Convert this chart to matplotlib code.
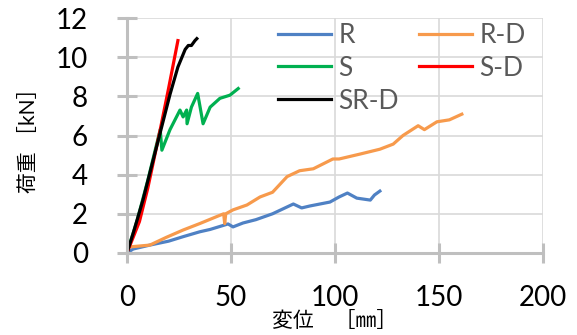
import matplotlib
matplotlib.use("Agg")
import matplotlib.pyplot as plt

plt.rcParams['font.family'] = ['Lato', 'Noto Sans CJK JP', 'DejaVu Sans']

# load-displacement data
r_x = [0, 3, 11, 20, 27, 35, 40, 48.6, 51, 55.8, 62, 70, 80, 84, 88, 97.6, 102, 106, 110.5, 117, 119, 121.6]
r_y = [0, 0.2, 0.4, 0.6, 0.83, 1.08, 1.2, 1.48, 1.33, 1.53, 1.7, 2.0, 2.5, 2.3, 2.4, 2.6, 2.86, 3.06, 2.8, 2.7, 2.96, 3.16]

rd_x = [0, 0.5, 11, 19, 27, 35, 43, 46.5, 47, 47.5, 51, 57.7, 64, 70, 77, 83, 89.6, 99, 102, 112, 121.6, 128, 132.7, 140, 143, 149, 155, 161]
rd_y = [0, 0.3, 0.4, 0.8, 1.17, 1.5, 1.85, 2.0, 1.5, 2.0, 2.2, 2.45, 2.86, 3.1, 3.9, 4.2, 4.3, 4.8, 4.8, 5.05, 5.3, 5.56, 6.0, 6.5, 6.3, 6.7, 6.8, 7.09]

s_x = [0, 5, 10, 16, 16.8, 20.7, 25.5, 27, 28.7, 28.9, 31, 34, 36.6, 40, 44.7, 49.5, 53.5]
s_y = [0, 1.7, 3.7, 6.3, 5.25, 6.3, 7.3, 6.95, 7.3, 6.6, 7.45, 8.15, 6.6, 7.45, 7.9, 8.06, 8.4]

sd_x = [0, 6, 10, 16, 20, 24.5]
sd_y = [0, 1.6, 3.3, 6.3, 8.4, 10.85]

srd_x = [0, 3, 7.7, 12.5, 16.6, 20.7, 24.5, 28, 29.5, 31, 32.7, 33.6]
srd_y = [0, 1.0, 2.7, 4.7, 6.4, 8.1, 9.5, 10.4, 10.6, 10.6, 10.85, 10.95]

series = [
    ("R", r_x, r_y, "#4f81c4"),
    ("R-D", rd_x, rd_y, "#f79a4c"),
    ("S", s_x, s_y, "#00b050"),
    ("S-D", sd_x, sd_y, "#ff0000"),
    ("SR-D", srd_x, srd_y, "#000000"),
]

fig = plt.figure(figsize=(5.77, 3.35), dpi=100)
ax = fig.add_axes([0.220, 0.245, 0.721, 0.701])

lines = {}
for name, xs, ys, col in series:
    lines[name], = ax.plot(xs, ys, color=col, lw=2.3, label=name, solid_joinstyle='round')

ax.set_xlim(0, 200)
ax.set_ylim(0, 12)
ax.set_xticks([0, 50, 100, 150, 200])
ax.set_yticks(range(0, 13, 2))
ax.grid(True, color="#d9d9d9", lw=1.2)
ax.set_axisbelow(True)

for side in ["top", "right"]:
    ax.spines[side].set_visible(False)
for side in ["left", "bottom"]:
    ax.spines[side].set_color("#bfbfbf")
    ax.spines[side].set_linewidth(2.2)

ax.tick_params(direction="inout", length=14, width=2.2, color="#bfbfbf",
               labelsize=20, labelcolor="black")
ax.tick_params(axis="x", pad=16)
ax.tick_params(axis="y", pad=21)

ax.set_xlabel("変位　［㎜］", fontsize=15, labelpad=0)
ax.set_ylabel("荷重 ［kN］", fontsize=15, labelpad=12)

# column-major fill so rows read R / R-D, S / S-D, SR-D
order = ["R", "S", "SR-D", "R-D", "S-D"]
leg = ax.legend([lines[n] for n in order], order, loc="upper left",
                bbox_to_anchor=(0.363, 0.98), ncol=2, frameon=False,
                borderpad=0, borderaxespad=0,
                fontsize=19, handlelength=2.0, handletextpad=0.3, columnspacing=0.75,
                labelspacing=0.3)
for t in leg.get_texts():
    t.set_color("#595959")

fig.savefig("out.png", dpi=100)
